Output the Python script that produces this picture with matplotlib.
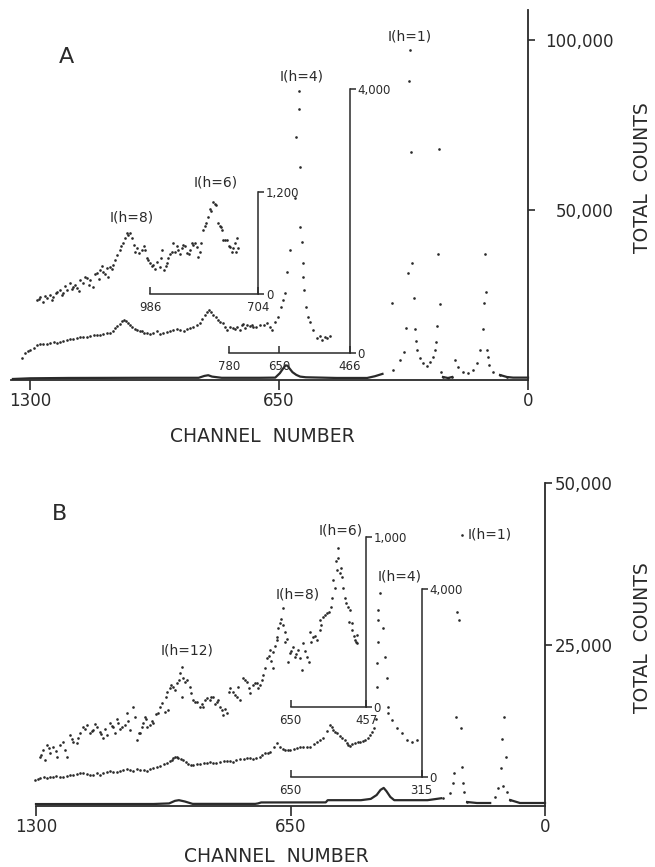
import numpy as np
import matplotlib.pyplot as plt

plt.rcParams['font.family'] = ['DejaVu Sans']

W, H = 655, 867
INK = '#2a2a2a'

# ---------------- panel A data (channel, counts) ----------------
# full-scale spectrum, low part drawn as a line, peaks as dots
a_base_ch = [1345, 1300, 1200, 1000, 860, 845, 835, 825, 800, 700, 660, 648, 640, 633,
             628, 622, 615, 605, 595, 580, 500, 440, 420, 400, 380, np.nan,
             222, 209, 198, np.nan, 73, 55, 39, 13, 0]
a_base_ct = [300, 500, 600, 650, 650, 1200, 1400, 1000, 650, 650, 700, 2000, 3300, 4300,
             4200, 3300, 2300, 1500, 1000, 800, 600, 600, 600, 1100, 1800, np.nan,
             880, 590, 880, np.nan, 1470, 880, 700, 700, 700]
a_bot_ch = [355, 352, 334, 324, 318, 313, 303, 305, 311, 308, 298, 295, 292, 290, 282, 274,
            264, 256, 248, 243, 240, 238, 235, 230, 232, 227, 222, 209, 198, 191, 183, 170,
            157, 144, 133, 125, 117, 115, 110, 112, 107, 104, 102, 91, 73, 55]
a_bot_ct = [22638, 2940, 5880, 8232, 15288, 31458, 34398, 67032, 87906, 97020, 24108, 14994,
            11466, 8820, 6468, 4998, 4116, 5292, 6762, 8820, 11172, 15876, 37044, 22344, 67914,
            2352, 882, 588, 882, 5880, 3822, 2352, 2058, 2940, 4998, 8820, 14994, 22638, 25872,
            37044, 8820, 6762, 4410, 2352, 1470, 882]

# 0-4,000 trace
a_mid_ch = [1321, 1313, 1300, 1282, 1266, 1248, 1229, 1214, 1196, 1177, 1162, 1143, 1125, 1109,
            1091, 1078, 1065, 1055, 1044, 1034, 1021, 1008, 995, 979, 961, 942, 927, 908, 890,
            874, 856, 843, 833, 822, 809, 796, 786, 778, 770, 760, 752, 744, 734, 726, 718, 700,
            681, 668, 653, 645, 640, 634, 629, 621, 608, 606, 598, 598, 595, 595, 590, 587, 587,
            585, 580, 574, 569, 561, 551, 543, 538, 530, 525, 517,
            1305, 1290, 1274, 1257, 1238, 1221, 1205, 1187, 1170, 1152, 1134, 1117, 1100, 1084,
            1072, 1060, 1050, 1039, 1027, 1014, 1002, 987, 970, 952, 935, 917, 899, 882, 865,
            850, 838, 827, 815, 803, 790, 765, 748, 738, 722, 710, 690, 675, 660]
a_mid_ct = [-76, 0, 45, 121, 136, 152, 152, 182, 212, 227, 242, 258, 273, 288,
            303, 379, 439, 500, 455, 394, 348, 333, 303, 303, 288, 318, 348, 348, 364,
            394, 455, 576, 651, 576, 500, 455, 348, 394, 379, 394, 348, 439, 424, 409, 394, 424,
            455, 348, 545, 697, 803, 909, 1227, 1560, 2348, 3272, 3969, 3697, 2818, 1909, 1682,
            1364, 1151, 955, 697, 545, 470, 348, 227, 258, 197, 242, 227, 258,
            30, 80, 140, 130, 170, 160, 200, 210, 250, 240, 280, 270, 300, 340,
            410, 480, 480, 420, 360, 340, 310, 290, 330, 300, 330, 360, 340, 380, 420,
            520, 620, 620, 540, 470, 400, 360, 420, 380, 430, 400, 430, 400, 470]

# 0-1,200 trace
a_top_ch = [1282, 1274, 1266, 1256, 1248, 1240, 1229, 1222, 1214, 1203, 1196, 1188, 1177, 1169,
            1162, 1151, 1143, 1136, 1125, 1117, 1109, 1099, 1096, 1091, 1083, 1073, 1065, 1057,
            1052, 1047, 1039, 1034, 1029, 1021, 1008, 1000, 995, 987, 979, 968, 961, 955, 950,
            942, 940, 929, 927, 921, 914, 903, 901, 890, 882, 874, 869, 864, 861, 854, 848, 841,
            835, 827, 822, 814, 809, 801, 799, 796, 786, 778, 773, 770, 760, 757,
            1278, 1262, 1244, 1233, 1218, 1208, 1192, 1182, 1172, 1158, 1147, 1130, 1120, 1112,
            1104, 1087, 1078, 1062, 1044, 1026, 1015, 1004, 991, 983, 973, 958, 946, 934, 917,
            908, 895, 886, 878, 857, 844, 830, 818, 805, 791, 782, 765, 762]
a_top_ct = [-71, -35, -94, -47, -12, -35, 24, 47, 12, 47, 129, 82, 71, 165,
            129, 188, 165, 82, 247, 282, 259, 306, 200, 318, 341, 459, 517, 600,
            659, 717, 717, 659, 576, 541, 517, 517, 423, 365, 341, 376, 318, 517, 282,
            365, 423, 494, 600, 494, 517, 541, 576, 482, 517, 576, 600, 553, 435, 600, 753, 835,
            906, 976, 1082, 1047, 835, 788, 753, 635, 635, 553, 494, 541, 659, 541,
            -60, -20, -70, 10, -10, 90, 60, 110, 30, 200, 110, 230, 180, 330,
            230, 290, 400, 560, 690, 500, 480, 560, 400, 330, 300, 420, 330, 470, 560,
            470, 560, 470, 600, 500, 800, 1000, 1060, 800, 640, 560, 600, 500]

# ---------------- panel B data ----------------
b_base_ch = [1300, 1000, 960, 945, 935, 920, 900, 740, 733, 725, 560, 555, 470, 445, 430, 420,
             412, 405, 395, 385, 300, 265, np.nan, 199, 174, 140, np.nan, 89, 64, 30, 5, 0]
b_base_ct = [300, 310, 400, 800, 900, 700, 330, 330, 400, 550, 560, 900, 900, 1100, 1700, 2500,
             2800, 2300, 1400, 900, 900, 1200, np.nan, 619, 464, 464, np.nan, 929, 464, 464, 464, 464]
b_bot_ch = [261, 243, 235, 232, 227, 225, 220, 212, 215, 212, 209, 207, 199, 128, 120, 112, 110,
            105, 100, 107, 97, 89]
b_bot_ct = [1238, 2012, 3560, 5108, 13777, 30031, 28793, 41951, 12074, 6037, 3560, 2167, 619,
            1393, 2786, 5882, 10372, 13777, 7585, 3096, 2167, 929]

# 0-4,000 trace
b_mid_ch = [1303, 1290, 1272, 1257, 1239, 1221, 1205, 1188, 1170, 1154, 1137, 1119, 1103, 1085,
            1068, 1052, 1034, 1016, 1001, 983, 965, 953, 945, 937, 925, 912, 899, 881, 863, 848,
            830, 812, 797, 779, 761, 746, 728, 715, 702, 684, 677, 664, 651, 633, 618, 600, 582,
            567, 549, 541, 531, 518, 506, 498, 485, 472, 460, 447, 437, 432, 429, 429, 427, 427,
            421, 427, 414, 409, 404, 401, 401, 391, 378, 365, 352, 340, 327,
            1296, 1280, 1264, 1248, 1230, 1213, 1196, 1179, 1162, 1145, 1128, 1111, 1094, 1077,
            1060, 1043, 1025, 1008, 992, 974, 959, 949, 941, 930, 918, 905, 890, 872, 855, 839,
            821, 805, 788, 770, 754, 737, 722, 708, 693, 670, 657, 642, 625, 609, 591, 575, 558,
            545, 536, 524, 512, 502, 492, 478, 466, 453, 442]
b_mid_ct = [-64, -21, -21, 0, 0, 21, 43, 85, 64, 43, 43, 107, 107, 128,
            170, 128, 149, 128, 192, 234, 298, 362, 426, 405, 362, 277, 256, 277, 298, 298,
            320, 341, 320, 383, 405, 383, 426, 511, 533, 724, 639, 575, 575, 618, 639, 639, 746,
            831, 1108, 1001, 937, 831, 724, 660, 724, 746, 788, 895, 1044, 1235, 1917, 2428, 2876,
            3344, 3919, 3557, 3174, 2556, 2109, 1491, 1363, 1214, 1044, 937, 788, 746, 788,
            -40, 10, -10, 20, 10, 40, 60, 90, 50, 80, 80, 120, 110, 150,
            140, 160, 150, 170, 210, 270, 330, 400, 430, 380, 320, 260, 270, 290, 310, 300,
            340, 330, 360, 390, 400, 410, 470, 520, 640, 600, 580, 600, 630, 640, 700, 780, 980,
            1060, 960, 880, 780, 690, 700, 740, 770, 840, 960]

# 0-1,000 trace
b_top_ch = [1290, 1282, 1277, 1272, 1264, 1257, 1246, 1239, 1231, 1221, 1213, 1205, 1195, 1188,
            1180, 1170, 1162, 1154, 1144, 1137, 1129, 1119, 1111, 1103, 1098, 1091, 1080, 1073,
            1068, 1060, 1052, 1042, 1034, 1027, 1022, 1016, 1009, 1001, 988, 978, 971, 963, 965,
            958, 950, 940, 932, 927, 935, 925, 914, 907, 927, 899, 889, 881, 873, 863, 856, 848,
            838, 830, 822, 812, 805, 797, 787, 779, 771, 761, 753, 746, 736, 728, 720, 710, 702,
            695, 684, 682, 677, 669, 664, 669, 684, 695, 664, 644, 651, 639, 631, 656, 621, 618,
            608, 603, 593, 600, 582, 575, 575, 567, 557, 547, 544, 541, 531, 524, 529, 529, 518,
            511, 503, 498, 493, 493, 485, 480, 480,
            1286, 1268, 1250, 1226, 1209, 1192, 1175, 1158, 1149, 1133, 1124, 1107, 1094, 1085,
            1064, 1047, 1038, 1030, 1018, 1005, 994, 983, 968, 954, 945, 919, 903, 894, 877, 868,
            852, 843, 834, 826, 817, 808, 792, 783, 766, 757, 741, 732, 724, 715, 706, 699, 690,
            673, 660, 648, 635, 626, 613, 597, 588, 571, 562, 552, 537, 534, 521, 515, 507, 500,
            489, 483]
b_top_ct = [-294, -253, -312, -223, -270, -235, -294, -223, -206, -294, -165, -206, -212, -153,
            -118, -106, -153, -135, -118, -147, -182, -165, -94, -118, -153, -94, -118, -106,
            -35, -135, 0, -194, -153, -94, -59, -118, -106, -94, -35, 24, -29, -18, 88,
            112, 118, 141, 200, 235, 159, 171, 159, 118, 59, 41, 29, 0, 0, 53, 41, 59,
            29, 0, -47, -35, 112, 88, 59, 41, 171, 147, 82, 129, 141, 129, 188, 288, 335,
            229, 394, 465, 494, 582, 441, 482, 412, 323, 382, 353, 318, 294, 335, 265, 218, 376,
            294, 265, 412, 441, 394, 453, 512, 529, 553, 588, 641, 747, 806, 788, 935, 876, 764,
            641, 588, 570, 453, 494, 394, 423, 376,
            -280, -240, -260, -250, -190, -180, -130, -140, -100, -160, -130, -110, -70, -130,
            -80, -60, -150, -120, -70, -80, -40, 0, 60, 130, 100, 150, 80, 30, 20, 40,
            60, 20, 40, -20, -10, 90, 70, 120, 160, 110, 140, 110, 160, 230, 300, 270, 360,
            520, 400, 330, 310, 290, 330, 380, 420, 480, 540, 560, 700, 860, 820, 700, 610, 500,
            420, 380]

fig = plt.figure(figsize=(W / 100, H / 100), dpi=100)


def box(x0, y0, x1, y1):
    # pixel box (left, top, right, bottom) -> figure fraction rect
    return [x0 / W, 1 - y1 / H, (x1 - x0) / W, (y1 - y0) / H]


def txt(x, y, s, **kw):
    kw.setdefault('color', INK)
    fig.text(x / W, 1 - y / H, s, **kw)


def main_axes(rect, xlim, ytop, yticks, ylabels, right_align):
    ax = fig.add_axes(rect)
    ax.set_xlim(*xlim)
    ax.set_ylim(0, ytop)
    for s in ['top', 'left']:
        ax.spines[s].set_visible(False)
    for s in ['bottom', 'right']:
        ax.spines[s].set_linewidth(1.3)
        ax.spines[s].set_color(INK)
    ax.set_xticks([1300, 650, 0], labels=['1300', '650', '0'])
    ax.tick_params(axis='x', direction='out', length=7, width=1.2, pad=2,
                   labelsize=12, colors=INK)
    ax.yaxis.tick_right()
    ax.set_yticks(yticks, labels=ylabels)
    if right_align:
        ax.tick_params(axis='y', direction='out', length=5, width=1.2, pad=57,
                       labelsize=12, colors=INK)
        for t in ax.get_yticklabels():
            t.set_ha('right')
    else:
        ax.tick_params(axis='y', direction='out', length=5, width=1.2, pad=2,
                       labelsize=12, colors=INK)
    ax.patch.set_visible(False)
    return ax


def bar_axes(rect, xlim, top, x_lo, x_hi, xt, ylab, fs):
    ins = fig.add_axes(rect)
    ins.patch.set_visible(False)
    ins.set_xlim(*xlim)
    ins.set_ylim(0, top)
    for s in ['top', 'left']:
        ins.spines[s].set_visible(False)
    for s in ['bottom', 'right']:
        ins.spines[s].set_linewidth(1.1)
        ins.spines[s].set_color(INK)
    ins.spines['bottom'].set_bounds(x_hi, x_lo)
    ins.spines['right'].set_position(('data', x_hi))
    ins.spines['right'].set_bounds(0, top)
    ins.set_xticks(xt, labels=[str(v) for v in xt])
    ins.tick_params(axis='x', direction='in', length=5, width=1.1, pad=5,
                    labelsize=fs, colors=INK)
    ins.yaxis.tick_right()
    ins.set_yticks([0, top], labels=['0', ylab])
    ins.tick_params(axis='y', direction='out', length=4, width=1.1, pad=1.5,
                    labelsize=fs, colors=INK)
    return ins


def dots(ax, x, y):
    ax.plot(x, y, 'o', ms=1.9, mew=0, color=INK, clip_on=False)


# ---------------- panel A ----------------
axA = main_axes(box(11, 10, 528, 380), (1350, 0), 108800,
                [50000, 100000], ['50,000', '100,000'], True)
axA.plot(a_base_ch, a_base_ct, '-', lw=1.6, color=INK, clip_on=False)
dots(axA, a_bot_ch, a_bot_ct)

midA = bar_axes(box(11, 89, 528, 353), (1350, 0), 4000, 780, 466,
                [780, 650, 466], '4,000', 8.5)
dots(midA, a_mid_ch, a_mid_ct)

topA = bar_axes(box(11, 192, 528, 294), (1350, 0), 1200, 986, 704,
                [986, 704], '1,200', 8.5)
dots(topA, a_top_ch, a_top_ct)

txt(66, 57, 'A', fontsize=16, ha='center', va='center')
txt(410, 37, 'I(h=1)', fontsize=10, ha='center', va='center')
txt(302, 76, 'I(h=4)', fontsize=10, ha='center', va='center')
txt(216, 183, 'I(h=6)', fontsize=10, ha='center', va='center')
txt(132, 218, 'I(h=8)', fontsize=10, ha='center', va='center')
txt(643, 178, 'TOTAL  COUNTS', fontsize=13.5, rotation=90, ha='center', va='center')
txt(262, 437, 'CHANNEL  NUMBER', fontsize=13.5, ha='center', va='center')

# ---------------- panel B ----------------
axB = main_axes(box(36, 483, 545, 806), (1300, 0), 50000,
                [25000, 50000], ['25,000', '50,000'], False)
axB.plot(b_base_ch, b_base_ct, '-', lw=1.6, color=INK, clip_on=False)
dots(axB, b_bot_ch, b_bot_ct)

midB = bar_axes(box(36, 589, 545, 777), (1300, 0), 4000, 650, 315,
                [650, 315], '4,000', 8.5)
dots(midB, b_mid_ch, b_mid_ct)

topB = bar_axes(box(36, 537, 545, 707), (1300, 0), 1000, 650, 457,
                [650, 457], '1,000', 8.5)
dots(topB, b_top_ch, b_top_ct)

txt(60, 514, 'B', fontsize=16, ha='center', va='center')
txt(187, 650, 'I(h=12)', fontsize=10, ha='center', va='center')
txt(298, 595, 'I(h=8)', fontsize=10, ha='center', va='center')
txt(341, 530, 'I(h=6)', fontsize=10, ha='center', va='center')
txt(400, 577, 'I(h=4)', fontsize=10, ha='center', va='center')
txt(490, 535, 'I(h=1)', fontsize=10, ha='center', va='center')
txt(643, 638, 'TOTAL  COUNTS', fontsize=13.5, rotation=90, ha='center', va='center')
txt(276, 856, 'CHANNEL  NUMBER', fontsize=13.5, ha='center', va='center')

fig.savefig('out.png', dpi=100)
